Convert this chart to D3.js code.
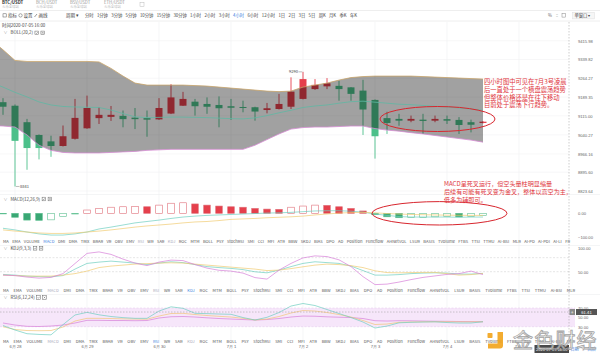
<!DOCTYPE html>
<html>
<head>
<meta charset="utf-8">
<script src="https://cdn.jsdelivr.net/npm/d3@7"></script>
<style>
  body { margin: 0; background: #fff; }
  svg { display: block; font-family: "Noto Sans CJK SC", "Noto Sans", sans-serif; }
</style>
</head>
<body>
<script>
var width = 600;
var height = 353;

// 4 hour candles, the first one opens 2020-06-27 20:00
var startTime = new Date(2020, 5, 27, 20);
var open  = [9169, 9155, 9090, 9040, 9015, 8997, 9025, 9066, 9106, 9111, 9115, 9108, 9106, 9101, 9124, 9155, 9171, 9162, 9158, 9153, 9150,
             9149, 9138, 9142, 9151, 9182, 9221, 9232, 9234, 9228, 9215, 9178, 9106, 9103, 9096, 9100, 9096, 9102, 9099, 9090, 9087];
var high  = [9185, 9160, 9103, 9042, 9037, 9077, 9182, 9195, 9149, 9154, 9136, 9146, 9136, 9185, 9241, 9210, 9182, 9188, 9192, 9182, 9175,
             9151, 9166, 9202, 9268, 9290, 9261, 9265, 9254, 9229, 9258, 9180, 9131, 9123, 9116, 9123, 9116, 9116, 9110, 9100, 9094];
var low   = [9119, 8841, 8905, 8945, 8955, 8995, 9022, 9064, 9083, 9095, 9070, 9063, 9033, 9099, 9122, 9154, 9116, 9123, 9070, 9099, 9129,
             9096, 9125, 9140, 9142, 9180, 9218, 9221, 9175, 9175, 9040, 8948, 9044, 9076, 9090, 9044, 9090, 9083, 9044, 9050, 9085];
var close = [9151, 9017, 8989, 8989, 8997, 9035, 9107, 9146, 9119, 9119, 9102, 9102, 9100, 9146, 9188, 9182, 9153, 9151, 9145, 9147, 9146,
             9132, 9145, 9162, 9211, 9261, 9238, 9244, 9221, 9202, 9140, 9035, 9087, 9096, 9103, 9095, 9103, 9096, 9079, 9080, 9092];

// BOLL(20,2); the lead values belong to the bar just left of the window (6-27 16:00)
var bollLead  = { up: 9420, mid: 9248, lo: 9077 };
var bollUpper = [9379, 9336, 9332, 9332, 9332, 9332, 9332, 9332, 9330, 9304, 9273, 9245, 9237, 9237, 9237, 9237, 9235, 9233, 9229, 9225, 9221,
                 9217, 9213, 9211, 9213, 9229, 9237, 9245, 9257, 9267, 9271, 9273, 9273, 9273, 9273, 9271, 9269, 9267, 9265, 9263, 9261];
var bollMid   = [9229, 9208, 9190, 9170, 9158, 9152, 9150, 9149, 9148, 9138, 9124, 9111, 9108, 9109, 9110, 9110, 9109, 9108, 9106, 9104, 9103,
                 9107, 9116, 9127, 9137, 9148, 9154, 9158, 9165, 9171, 9173, 9169, 9165, 9161, 9159, 9156, 9153, 9150, 9146, 9142, 9137];
var bollLower = [9075, 9071, 9040, 9000, 8980, 8972, 8970, 8970, 8970, 8972, 8974, 8976, 8980, 8982, 8984, 8984, 8984, 8984, 8984, 8984, 8984,
                 9000, 9022, 9044, 9063, 9069, 9071, 9071, 9073, 9075, 9075, 9065, 9059, 9055, 9049, 9044, 9038, 9032, 9026, 9020, 9012];

// MACD(12,26,9)
var macdDif  = [-64, -71, -80, -88, -93, -93, -88, -80, -67, -59, -50, -41, -35, -29, -22, -16, -12, -9, -7, -5, -3,
                -1, 1, 2, 4, 7, 10, 11, 11, 9, 5, -3, -9, -14, -16, -16, -16, -16, -17, -16, -16];
var macdDea  = [-71, -76, -80, -84, -86, -86, -84, -80, -76, -71, -65, -59, -54, -50, -46, -41, -37, -35, -31, -26, -24,
                -22, -19, -17, -15, -12, -7, -3, 1, 3, 4, 2, -1, -3, -5, -6, -7, -8, -8.5, -9, -9];
var macdHist = [-1, -17, -29, -30, -28, -14.5, -3, 14, 21, 26, 28, 29, 28, 35, 43, 45, 40, 35, 31, 28, 26,
                21, 18, 17, 26, 31, 35, 34, 28, 21, 10, -6, -15, -19, -18, -17.5, -15, -14.5, -15.5, -13, -10];

// KDJ(9,3,3)
var kdjK = [44.2, 42.7, 40.6, 39.5, 39.1, 41.7, 55.6, 67.7, 70.5, 72.6, 70.5, 68.4, 65.2, 68.4, 71.2, 69.4, 65.2, 60.9, 58.8, 57.1, 54.5,
            49.8, 47.6, 53.4, 60.9, 67.7, 71.2, 69.4, 67.7, 62, 52.4, 42.7, 42.7, 43.8, 45.9, 47, 47.6, 47, 44.9, 44.9, 46.4];
var kdjD = [42.7, 41.7, 40.6, 40.6, 40.6, 42.7, 45.9, 51.3, 58.8, 62, 64.1, 66.2, 67.3, 68.4, 69, 68.4, 66.2, 64.1, 62, 59.8, 57.7,
            55.6, 52.4, 53.4, 56.6, 60.5, 64.1, 66.2, 65.2, 63, 58.8, 51.9, 48.1, 47.6, 48.1, 48.5, 48.5, 45.9, 42.7, 43.8, 46.4];
var kdjJ = [42.7, 41.7, 38.5, 36.3, 37.8, 45.9, 67.5, 89.1, 92.3, 87, 76.9, 68.4, 63, 70.5, 74.8, 73.7, 65.2, 57.7, 53, 51.3, 47,
            37.4, 34.2, 53.4, 67.7, 79.5, 83.8, 82.3, 75.4, 60.9, 39.5, 22.4, 23.5, 27.8, 33.1, 37.8, 41, 44.2, 45.9, 51.3, 43.8];

// RSI(6,12,24)
var rsi6  = [32.5, 22.9, 15, 13.5, 12.6, 34.4, 55, 60.7, 55.4, 51.8, 49.4, 47.9, 47.9, 63.5, 72.5, 69.3, 58.6, 58, 57.1, 56.5, 49.6,
             44.3, 50.1, 60.3, 74.2, 79.6, 75.3, 66.7, 58.2, 49.6, 40, 27.2, 31.4, 38.3, 39.4, 40, 40.4, 38.9, 37.9, 37.9, 40.6];
var rsi12 = [29.9, 24, 21.8, 21.4, 21.8, 29.3, 42.1, 47.9, 47.9, 47.5, 46.8, 46.4, 46, 52.8, 58.2, 58.6, 56, 53.9, 52.2, 50.7, 47.9,
             44.3, 46.4, 51.8, 59.3, 64.6, 63.5, 60.3, 56, 50.7, 43.2, 34.7, 35.7, 39.4, 40, 40.4, 40.6, 40.6, 40.4, 40.4, 40.6];
var rsi24 = [37.9, 33.6, 30.8, 30.4, 31.4, 33.6, 37.9, 43.6, 43.6, 43.2, 43.2, 42.8, 43.2, 48.6, 51.3, 51.8, 50.7, 49, 47.5, 46.4, 45.3,
             44.3, 45.3, 47.5, 50.7, 52.8, 52.4, 51.1, 50.3, 49.6, 47.5, 42.8, 42.1, 42.8, 42.6, 42.1, 41.7, 41.5, 41.1, 40.9, 40.6];

// axis labels
var priceTicks = [9415.98, 9339.82, 9264.27, 9189.35, 9115.00, 9040.27, 8966.16, 8895.60, 8823.64];
var macdTicks = [0, -100];
var kdjTicks = [100, 50];
var kdjLevels = [80, 50];
var rsiTicks = [70, 50, 30];

var pairs = ["BTC/USDT", "BCH/USDT", "BSV/USDT", "ETH/USDT"];
var periods = ["分时", "1分钟", "3分钟", "5分钟", "10分钟", "15分钟", "30分钟", "1小时", "2小时", "3小时", "4小时",
               "6小时", "12小时", "1日", "2日", "3日", "5日", "周K", "月K", "季K", "年K"];
var indicators = ["MA", "EMA", "VOLUME", "MACD", "DMI", "DMA", "TRIX", "BRAR", "VR", "OBV", "EMV", "RSI", "WR", "SAR", "KDJ",
                  "ROC", "MTM", "BOLL", "PSY", "StochRSI", "SMI", "CCI", "MFI", "ATR", "BBW", "SKDJ", "BIAS", "DPO", "AD",
                  "Position", "Funcflow", "AHNetVOL", "LSUR", "BASIS", "TVolume", "FTBS", "TTSI", "TTMU", "AI-BSI", "MLR",
                  "AI-PD", "AI-PDI", "AI-LI", "FR"];

var note1 = ["四小时图中可见在7月3号凌晨", "后一直处于一个横盘震荡趋势", "但整体价格还是在往下移动", "目前处于震荡下行趋势。"];
var note2 = ["MACD呈死叉运行，但空头量柱明显缩量", "后续有可能有死叉变为金叉，整体以高空为主，", "低多为辅即可。"];

var cursorTime = new Date(2020, 6, 5, 16);
var cursorRsi = 61.41;

var bars = open.map(function (o, i) {
    return { t: d3.timeHour.offset(startTime, 4 * i), o: o, h: high[i], l: low[i], c: close[i],
             up: bollUpper[i], mid: bollMid[i], lo: bollLower[i],
             dif: macdDif[i], dea: macdDea[i], hist: macdHist[i], prev: i ? macdHist[i - 1] : 0,
             k: kdjK[i], d: kdjD[i], j: kdjJ[i], r6: rsi6[i], r12: rsi12[i], r24: rsi24[i] };
});
var band = [Object.assign({ t: d3.timeHour.offset(startTime, -4) }, bollLead)].concat(bars);

var red = "#e5404c", green = "#4cc08a";
var noteRed = "#e0353c";

var svg = d3.select("body").append("svg")
    .attr("width", width)
    .attr("height", height);

svg.append("clipPath").attr("id", "plot")
    .append("rect").attr("x", 0).attr("y", 22).attr("width", 575).attr("height", 320);

// Scales
var x = d3.scaleTime()
    .domain([bars[0].t, bars[bars.length - 1].t])
    .range([3, 483]);
var y = d3.scaleLog().domain([8823.64, 9415.98]).range([191, 40.7]);
var yMacd = d3.scaleLinear().domain([-100, 0]).range([236.7, 213.3]);
var yKdj = d3.scaleLinear().domain([50, 100]).range([271.7, 248.3]);
var yRsi = d3.scaleLinear().domain([30, 70]).range([326.7, 308]);

var cursorX = x(cursorTime) + 2;

// ---- header: pair tabs and toolbar
var pairTab = svg.append("g").selectAll("g").data(pairs).enter().append("g")
    .attr("transform", function (d, i) { return "translate(" + (2 + 34 * i) + ",0)"; });
pairTab.append("text").attr("y", 3.6).attr("font-size", 4.3)
    .attr("font-weight", function (d, i) { return i ? "normal" : "bold"; })
    .attr("fill", function (d, i) { return i ? "#999" : "#333"; })
    .text(function (d) { return d; });
pairTab.append("text").attr("y", 7.6).attr("font-size", 3.4).attr("fill", "#bbb").text("火币全球站");
svg.append("rect").attr("x", 140).attr("y", 2.5).attr("width", 4).attr("height", 4)
    .attr("fill", "none").attr("stroke", "#bbb").attr("stroke-width", 0.5);

svg.append("line").attr("x1", 0).attr("x2", width).attr("y1", 10.5).attr("y2", 10.5).attr("stroke", "#eee");
svg.append("line").attr("x1", 0).attr("x2", width).attr("y1", 21).attr("y2", 21).attr("stroke", "#eee");

var tools = svg.append("g").attr("font-size", 4.5).attr("fill", "#444");
tools.append("rect").attr("x", 3).attr("y", 13.8).attr("width", 3.2).attr("height", 3.2)
    .attr("fill", "none").attr("stroke", "#555").attr("stroke-width", 0.5);
tools.append("text").attr("x", 8).attr("y", 17.2).text("指标");
tools.append("circle").attr("cx", 20.5).attr("cy", 15.4).attr("r", 1.7)
    .attr("fill", "none").attr("stroke", "#555").attr("stroke-width", 0.5);
tools.append("text").attr("x", 23.5).attr("y", 17.2).text("设置");
tools.append("line").attr("x1", 34.5).attr("x2", 37).attr("y1", 17).attr("y2", 14)
    .attr("stroke", "#555").attr("stroke-width", 0.6);
tools.append("text").attr("x", 38.5).attr("y", 17.2).text("画线");
tools.append("text").attr("x", 66).attr("y", 17.2).text("周期 ▾");

// spreads a row of labels evenly between x0 and x1
function spread(g, items, x0, x1, yPos, size, colorOf) {
    var t = g.selectAll(null).data(items).enter().append("text")
        .attr("y", yPos).attr("font-size", size)
        .attr("fill", colorOf)
        .text(function (d) { return d; });
    var w = t.nodes().map(function (n) { return n.getComputedTextLength(); });
    var gap = (x1 - x0 - d3.sum(w)) / (items.length - 1);
    var pos = x0;
    t.attr("x", function (d, i) { var p = pos; pos += w[i] + gap; return p; });
}

spread(svg.append("g"), periods, 85, 357, 17.2, 4.3, function (d) { return d == "4小时" ? "#3d7fe0" : "#444"; });

var rightTools = svg.append("g").attr("font-size", 4.3).attr("fill", "#666");
rightTools.append("text").attr("x", 548).attr("y", 17.2).text("%");
rightTools.append("text").attr("x", 556).attr("y", 17.2).text("⁚⁚");
rightTools.append("rect").attr("x", 562).attr("y", 13.7).attr("width", 3.4).attr("height", 3.4)
    .attr("fill", "none").attr("stroke", "#888").attr("stroke-width", 0.5);
rightTools.append("rect").attr("x", 572.5).attr("y", 12.3).attr("width", 22).attr("height", 6.6)
    .attr("fill", "#f6f6f6").attr("stroke", "#ddd").attr("stroke-width", 0.5);
rightTools.append("text").attr("x", 574.5).attr("y", 17.2).attr("fill", "#444").text("单窗口 ▾");

// ---- grid
var days = d3.timeDay.range(d3.timeDay.ceil(bars[0].t), d3.timeDay.offset(cursorTime, 0));
svg.append("g").selectAll("line").data(days).enter().append("line")
    .attr("x1", function (d) { return x(d); }).attr("x2", function (d) { return x(d); })
    .attr("y1", 22).attr("y2", 340)
    .attr("stroke", "#eef0f2").attr("stroke-width", 0.6);
svg.append("g").selectAll("line").data(priceTicks).enter().append("line")
    .attr("x1", 0).attr("x2", cursorX)
    .attr("y1", function (d) { return y(d); }).attr("y2", function (d) { return y(d); })
    .attr("stroke", "#f1f2f4").attr("stroke-width", 0.6);

[194.5, 245.5, 294.5].forEach(function (yy) {
    svg.append("line").attr("x1", 0).attr("x2", width).attr("y1", yy).attr("y2", yy).attr("stroke", "#eceef0").attr("stroke-width", 0.6);
});

// panel titles
function panelTitle(yPos, label) {
    var g = svg.append("g").attr("font-size", 4.4).attr("fill", "#444");
    g.append("text").attr("x", 3.5).attr("y", yPos).attr("font-size", 4).attr("fill", "#888").text("∨");
    var t = g.append("text").attr("x", 10.5).attr("y", yPos).text(label);
    var end = 10.5 + t.node().getComputedTextLength();
    [end + 2, end + 8].forEach(function (bx, i) {
        g.append("rect").attr("x", bx).attr("y", yPos - 3.3).attr("width", 3.6).attr("height", 3.6)
            .attr("fill", "none").attr("stroke", "#666").attr("stroke-width", 0.5);
        g.append("path").attr("d", i ? "M" + (bx + 1) + "," + (yPos - 2.3) + "l1.6,1.6m0,-1.6l-1.6,1.6"
                                     : "M" + (bx + 0.8) + "," + (yPos - 1.5) + "l0.8,0.8l1.3,-1.6")
            .attr("fill", "none").attr("stroke", "#666").attr("stroke-width", 0.5);
    });
}
svg.append("text").attr("x", 2).attr("y", 26.5).attr("font-size", 4.4).attr("fill", "#444").text("时间2020-07-05 16:00");
panelTitle(34.4, "BOLL(20,2)");
panelTitle(200.5, "MACD(12,26,9)");
panelTitle(249.8, "KDJ(9,3,3)");
panelTitle(299, "RSI(6,12,24)");

// ---- candles
var candle = svg.append("g").selectAll("g").data(bars).enter().append("g");
candle.append("line")
    .attr("x1", function (d) { return x(d.t); }).attr("x2", function (d) { return x(d.t); })
    .attr("y1", function (d) { return y(d.h); }).attr("y2", function (d) { return y(d.l); })
    .attr("stroke", function (d) { return d.c >= d.o ? red : green; })
    .attr("stroke-width", 0.9);
candle.append("rect")
    .attr("x", function (d) { return x(d.t) - 3.5; })
    .attr("width", 7)
    .attr("y", function (d) { return y(Math.max(d.o, d.c)); })
    .attr("height", function (d) { return Math.max(0.9, y(Math.min(d.o, d.c)) - y(Math.max(d.o, d.c))); })
    .attr("fill", function (d) { return d.c >= d.o ? red : green; });

// BOLL band, laid over the candles
var bandLayer = svg.append("g").attr("clip-path", "url(#plot)");
bandLayer.append("path").datum(band)
    .attr("d", d3.area().x(function (d) { return x(d.t); })
        .y0(function (d) { return y(d.lo); }).y1(function (d) { return y(d.up); }))
    .attr("fill", "#000").attr("fill-opacity", 0.37);
[["up", "#c9a46a"], ["mid", "#5fb7a3"], ["lo", "#d58bd3"]].forEach(function (s) {
    bandLayer.append("path").datum(band)
        .attr("d", d3.line().x(function (d) { return x(d.t); }).y(function (d) { return y(d[s[0]]); }))
        .attr("fill", "none").attr("stroke", s[1]).attr("stroke-width", 0.8);
});

// max / min markers
var hiBar = bars[d3.maxIndex(bars, function (d) { return d.h; })];
var loBar = bars[d3.minIndex(bars, function (d) { return d.l; })];
svg.append("line").attr("x1", x(hiBar.t) - 4.5).attr("x2", x(hiBar.t) - 0.8)
    .attr("y1", y(hiBar.h)).attr("y2", y(hiBar.h)).attr("stroke", "#555").attr("stroke-width", 0.4);
svg.append("text").attr("x", x(hiBar.t) - 5).attr("y", y(hiBar.h) + 1.4).attr("text-anchor", "end")
    .attr("font-size", 4).attr("fill", "#444").text(hiBar.h);
svg.append("line").attr("x1", x(loBar.t) + 0.8).attr("x2", x(loBar.t) + 4.5)
    .attr("y1", y(loBar.l)).attr("y2", y(loBar.l)).attr("stroke", "#555").attr("stroke-width", 0.4);
svg.append("text").attr("x", x(loBar.t) + 5).attr("y", y(loBar.l) + 1.4)
    .attr("font-size", 4).attr("fill", "#444").text(loBar.l);

// ---- MACD
var macd = svg.append("g");
macd.selectAll("rect").data(bars).enter().append("rect")
    .attr("x", function (d) { return x(d.t) - 3.3; })
    .attr("width", 6.6)
    .attr("y", function (d) { return Math.min(yMacd(0), yMacd(d.hist)); })
    .attr("height", function (d) { return Math.max(0.6, Math.abs(yMacd(d.hist) - yMacd(0))); })
    .attr("fill", function (d) { return d.hist < d.prev ? (d.hist >= 0 ? red : "#3aa774") : "#fff"; })
    .attr("stroke", function (d) { return d.hist >= 0 ? "#e0707a" : "#5cbf90"; })
    .attr("stroke-width", 0.6);
[["dif", "#6fcfc0"], ["dea", "#f1cc72"]].forEach(function (s) {
    macd.append("path").datum(bars)
        .attr("d", d3.line().x(function (d) { return x(d.t); }).y(function (d) { return yMacd(d[s[0]]); }))
        .attr("fill", "none").attr("stroke", s[1]).attr("stroke-width", 0.7);
});

// ---- KDJ
var kdj = svg.append("g");
kdj.selectAll("line").data(kdjLevels).enter().append("line")
    .attr("x1", 0).attr("x2", cursorX)
    .attr("y1", function (d) { return yKdj(d); }).attr("y2", function (d) { return yKdj(d); })
    .attr("stroke", "#ccc").attr("stroke-width", 0.5).attr("stroke-dasharray", "2,1.5");
[["k", "#6fcfc0"], ["d", "#f1cc72"], ["j", "#d77fd9"]].forEach(function (s) {
    kdj.append("path").datum(bars)
        .attr("d", d3.line().x(function (d) { return x(d.t); }).y(function (d) { return yKdj(d[s[0]]); }))
        .attr("fill", "none").attr("stroke", s[1]).attr("stroke-width", 0.7);
});

// ---- RSI
var rsi = svg.append("g");
rsi.append("rect").attr("x", 0).attr("width", 575)
    .attr("y", yRsi(70)).attr("height", yRsi(30) - yRsi(70))
    .attr("fill", "#f6e6fa");
rsi.selectAll("line").data([70, 30]).enter().append("line")
    .attr("x1", 0).attr("x2", 575)
    .attr("y1", function (d) { return yRsi(d); }).attr("y2", function (d) { return yRsi(d); })
    .attr("stroke", "#e2c6ea").attr("stroke-width", 0.5).attr("stroke-dasharray", "2,1.5");
[["r24", "#d77fd9"], ["r12", "#f1c67a"], ["r6", "#6fcfc0"]].forEach(function (s) {
    rsi.append("path").datum(bars)
        .attr("d", d3.line().x(function (d) { return x(d.t); }).y(function (d) { return yRsi(d[s[0]]); }))
        .attr("fill", "none").attr("stroke", s[1]).attr("stroke-width", 0.7);
});

// ---- indicator rows
function indicatorRow(yPos, items, x1, active) {
    spread(svg.append("g"), items, 3, x1, yPos, 4.1, function (d) {
        if (d == active) return "#3d7fe0";
        if (d == "MACD" || d == "RSI" || d == "KDJ") return "#aab";
        return "#555";
    });
}
indicatorRow(243.3, indicators, 570, "MACD");
indicatorRow(291.6, indicators.slice(0, indicators.indexOf("MLR") + 1), 575, "KDJ");
indicatorRow(342.6, indicators.slice(0, indicators.indexOf("MLR") + 1), 575, "RSI");

// ---- right axes
function rightAxis(scale, ticks, fmt) {
    svg.append("g")
        .attr("transform", "translate(578,0)")
        .call(d3.axisRight(scale).tickValues(ticks).tickSize(0).tickPadding(0).tickFormat(d3.format(fmt)))
        .call(function (g) { g.select(".domain").remove(); })
        .selectAll("text").attr("font-size", 4.1).attr("fill", "#666").attr("font-family", "inherit");
}
rightAxis(y, priceTicks, ".2f");
rightAxis(yMacd, macdTicks, ".2f");
rightAxis(yKdj, kdjTicks, ".2f");
rightAxis(yRsi, rsiTicks, ".2f");

// ---- date axis
svg.append("g")
    .attr("transform", "translate(0,345.5)")
    .call(d3.axisBottom(x).tickValues(d3.timeDay.range(d3.timeDay.ceil(bars[0].t), cursorTime))
        .tickSize(0).tickPadding(0).tickFormat(d3.timeFormat("%-m月 %-d")))
    .call(function (g) { g.select(".domain").remove(); })
    .selectAll("text").attr("font-size", 4.1).attr("fill", "#666").attr("font-family", "inherit");

// ---- annotations
svg.append("ellipse").attr("cx", 437.5).attr("cy", 119).attr("rx", 57.5).attr("ry", 12.5)
    .attr("fill", "none").attr("stroke", "#d8262e").attr("stroke-width", 1);
svg.append("ellipse").attr("cx", 439.5).attr("cy", 213.3).attr("rx", 67.5).attr("ry", 11.7)
    .attr("fill", "none").attr("stroke", "#d8262e").attr("stroke-width", 1);
svg.append("g").selectAll("text").data(note1).enter().append("text")
    .attr("x", 484).attr("y", function (d, i) { return 84 + 7.8 * i; })
    .attr("font-size", 6.3).attr("fill", noteRed).text(function (d) { return d; });
svg.append("g").selectAll("text").data(note2).enter().append("text")
    .attr("x", 444).attr("y", function (d, i) { return 185.5 + 8.3 * i; })
    .attr("font-size", 6.1).attr("fill", noteRed).text(function (d) { return d; });

// ---- crosshair
svg.append("line").attr("x1", cursorX).attr("x2", cursorX).attr("y1", 22).attr("y2", 344)
    .attr("stroke", "#999").attr("stroke-width", 0.5).attr("stroke-dasharray", "1.5,1.5");
svg.append("line").attr("x1", 0).attr("x2", 570).attr("y1", yRsi(cursorRsi)).attr("y2", yRsi(cursorRsi))
    .attr("stroke", "#999").attr("stroke-width", 0.5).attr("stroke-dasharray", "1.5,1.5");
svg.append("rect").attr("x", 569.5).attr("y", yRsi(cursorRsi) - 3).attr("width", 5.5).attr("height", 6).attr("fill", "#8a8a8a");
svg.append("text").attr("x", 572.2).attr("y", yRsi(cursorRsi) + 1.6).attr("text-anchor", "middle")
    .attr("font-size", 5).attr("fill", "#fff").text("+");
svg.append("rect").attr("x", 576).attr("y", yRsi(cursorRsi) - 3).attr("width", 21).attr("height", 6).attr("fill", "#555");
svg.append("text").attr("x", 586.5).attr("y", yRsi(cursorRsi) + 1.5).attr("text-anchor", "middle")
    .attr("font-size", 4.2).attr("fill", "#fff").text(d3.format(".2f")(cursorRsi));
svg.append("rect").attr("x", 534.5).attr("y", 345).attr("width", 34.5).attr("height", 8).attr("fill", "#4a4a4a");
svg.append("text").attr("x", 551.7).attr("y", 350.6).attr("text-anchor", "middle")
    .attr("font-size", 4).attr("fill", "#fff").text(d3.timeFormat("%Y-%m-%d %H:%M")(cursorTime));
svg.append("text").attr("x", 570.5).attr("y", 350.6).attr("font-size", 4.1).attr("fill", "#3d7fe0").text("日期");
svg.append("text").attr("x", 580.5).attr("y", 350.6).attr("font-size", 4.1).attr("fill", "#666").text("↘");
svg.append("text").attr("x", 587.5).attr("y", 350.6).attr("font-size", 4.1).attr("fill", "#3d7fe0").text("回后");

// ---- watermark
var mark = svg.append("g").attr("opacity", 0.92);
mark.append("rect").attr("x", 487.5).attr("y", 333).attr("width", 5).attr("height", 5).attr("rx", 0.8).attr("fill", "#f2a51f");
mark.append("path").attr("d", "M497.5,332h5.5v13.5q0,3 -3,3h-12v-5h9.5z").attr("fill", "#f2a51f");
mark.append("text").attr("x", 513).attr("y", 347.5)
    .attr("font-size", 20).attr("letter-spacing", 1.2)
    .attr("fill", "#fff").attr("fill-opacity", 0.75)
    .attr("stroke", "#9a9a9a").attr("stroke-width", 0.8)
    .text("金色财经");
</script>
</body>
</html>
